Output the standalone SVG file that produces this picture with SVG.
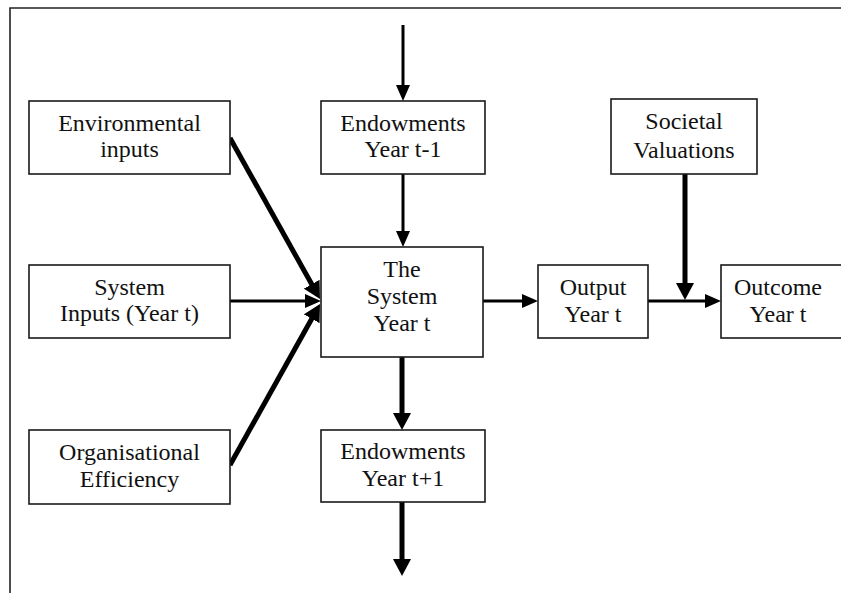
<svg xmlns="http://www.w3.org/2000/svg" width="841" height="593" viewBox="0 0 841 593">
  <style>
    .box { fill: #ffffff; stroke: #1a1a1a; stroke-width: 1.6; }
    .lbl { font-family: "Liberation Serif", "Times New Roman", serif; font-size: 24px; fill: #111; text-anchor: middle; }
    .thin { fill: none; stroke: #000; stroke-width: 3; }
    .thick { fill: none; stroke: #000; stroke-width: 5; }
    .frame { fill: none; stroke: #222; stroke-width: 1.6; }
  </style>
  <defs>
    <marker id="headThin" markerUnits="userSpaceOnUse" markerWidth="16" markerHeight="14" refX="6" refY="7" orient="auto">
      <path d="M0,0 L16,7 L0,14 z" fill="#000"/>
    </marker>
    <marker id="headThick" markerUnits="userSpaceOnUse" markerWidth="17" markerHeight="18" refX="7" refY="9" orient="auto">
      <path d="M0,0 L17,9 L0,18 z" fill="#000"/>
    </marker>
  </defs>

  <rect width="841" height="593" fill="#ffffff"/>
  <!-- page frame (top and left edges) -->
  <path class="frame" d="M10,593 L10,8 L841,8"/>

  <g id="connectors">
    <path class="thin" d="M403,25 L403,91" marker-end="url(#headThin)"/>
    <path class="thin" d="M403,174 L403,237" marker-end="url(#headThin)"/>
    <path class="thick" d="M402,357 L402,420" marker-end="url(#headThick)"/>
    <path class="thick" d="M402,502 L402,566" marker-end="url(#headThick)"/>
    <path class="thin" d="M483,301 L528,301" marker-end="url(#headThin)"/>
    <path class="thin" d="M648,301 L711,301" marker-end="url(#headThin)"/>
    <path class="thick" d="M685,174 L685,290" marker-end="url(#headThick)"/>
    <path class="thin" d="M230,301 L311,301" marker-end="url(#headThin)"/>
    <path class="thick" d="M230,138 L315.1,290.3" marker-end="url(#headThick)"/>
    <path class="thick" d="M230,465 L315.1,312.7" marker-end="url(#headThick)"/>
  </g>

  <g id="environmental-inputs">
    <rect class="box" x="29" y="101" width="201" height="73"/>
    <text class="lbl" x="129.5" y="131">Environmental</text>
    <text class="lbl" x="129.5" y="157">inputs</text>
  </g>

  <g id="system-inputs">
    <rect class="box" x="29" y="265" width="201" height="73"/>
    <text class="lbl" x="129.5" y="295">System</text>
    <text class="lbl" x="129.5" y="321">Inputs (Year t)</text>
  </g>

  <g id="organisational-efficiency">
    <rect class="box" x="29" y="430" width="201" height="74"/>
    <text class="lbl" x="129.5" y="460">Organisational</text>
    <text class="lbl" x="129.5" y="487">Efficiency</text>
  </g>

  <g id="endowments-prev">
    <rect class="box" x="321" y="101" width="164" height="73"/>
    <text class="lbl" x="403" y="131">Endowments</text>
    <text class="lbl" x="403" y="157">Year t-1</text>
  </g>

  <g id="the-system">
    <rect class="box" x="321" y="247" width="162" height="110"/>
    <text class="lbl" x="402" y="277">The</text>
    <text class="lbl" x="402" y="304">System</text>
    <text class="lbl" x="402" y="331">Year t</text>
  </g>

  <g id="endowments-next">
    <rect class="box" x="321" y="430" width="164" height="72"/>
    <text class="lbl" x="403" y="459">Endowments</text>
    <text class="lbl" x="403" y="486">Year t+1</text>
  </g>

  <g id="output">
    <rect class="box" x="538" y="265" width="110" height="73"/>
    <text class="lbl" x="593" y="295">Output</text>
    <text class="lbl" x="593" y="322">Year t</text>
  </g>

  <g id="societal-valuations">
    <rect class="box" x="611" y="99" width="146" height="75"/>
    <text class="lbl" x="684" y="129">Societal</text>
    <text class="lbl" x="684" y="158">Valuations</text>
  </g>

  <g id="outcome">
    <rect class="box" x="721" y="265" width="130" height="73"/>
    <text class="lbl" x="778" y="295">Outcome</text>
    <text class="lbl" x="778" y="322">Year t</text>
  </g>
</svg>
